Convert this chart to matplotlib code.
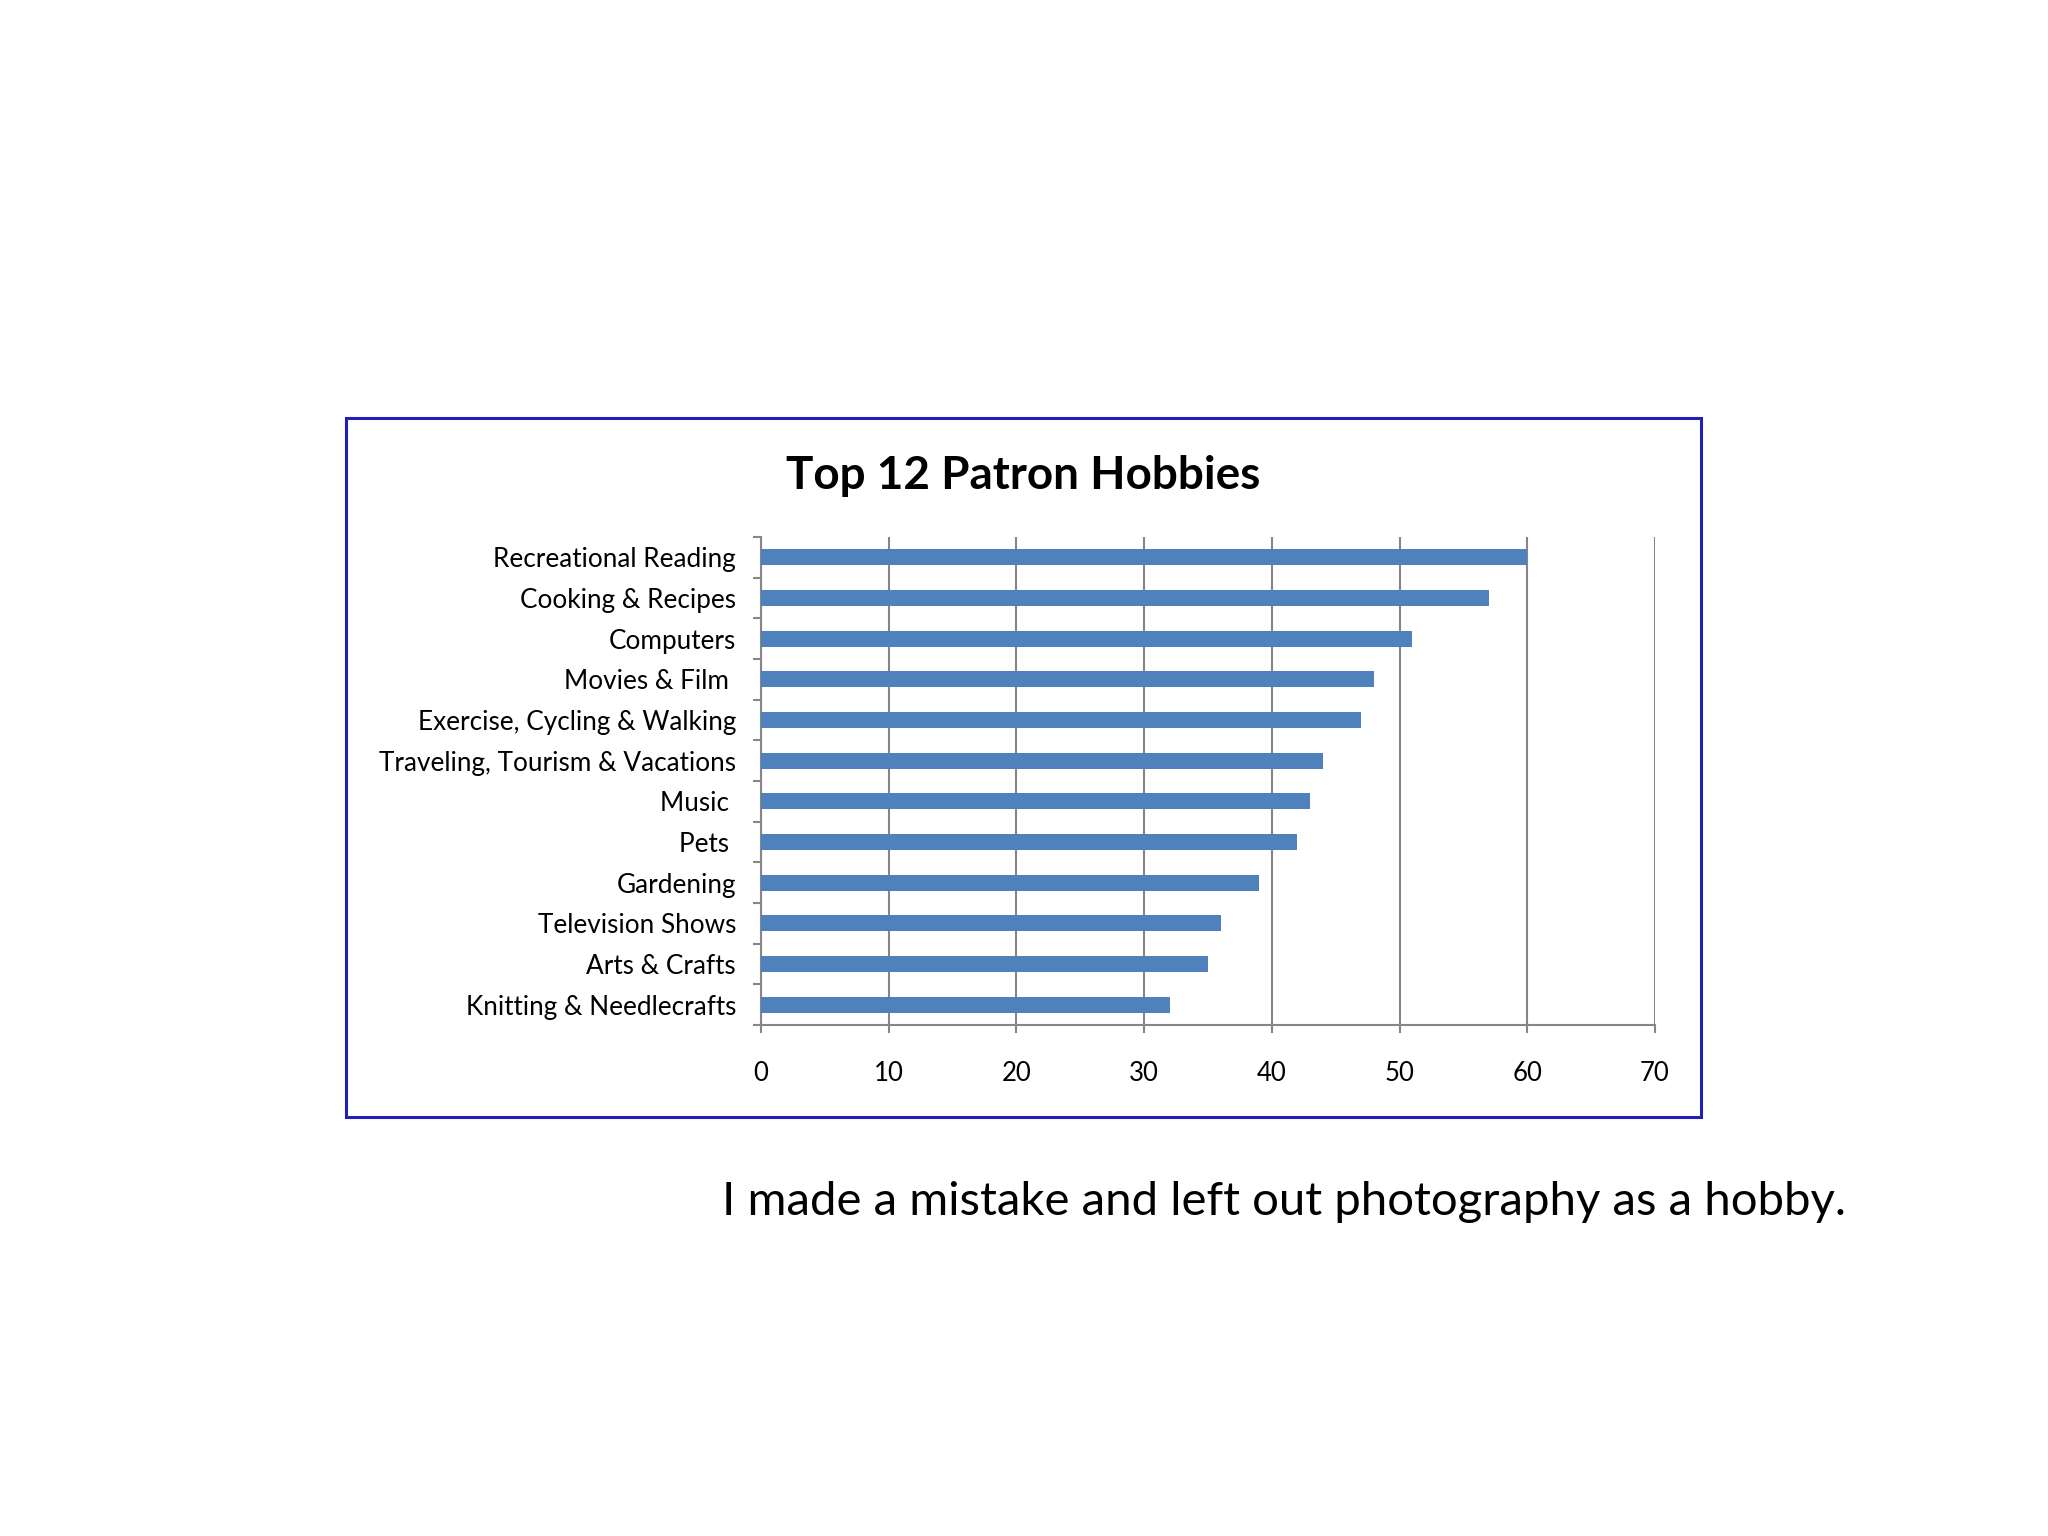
# Top 12 Patron Hobbies - horizontal bar chart
import numpy as np
import matplotlib.pyplot as plt
from matplotlib.patches import Rectangle

# data (top to bottom as shown)
hobbies = ['Recreational Reading', 'Cooking & Recipes', 'Computers', 'Movies & Film ',
           'Exercise, Cycling & Walking', 'Traveling, Tourism & Vacations', 'Music ',
           'Pets ', 'Gardening', 'Television Shows', 'Arts & Crafts',
           'Knitting & Needlecrafts']
counts = [60, 57, 51, 48, 47, 44, 43, 42, 39, 36, 35, 32]
xticks = [0, 10, 20, 30, 40, 50, 60, 70]

plt.rcParams['font.family'] = ['Lato', 'DejaVu Sans']

fig = plt.figure(figsize=(20.48, 15.36), dpi=100)
fig.patch.set_facecolor('white')

# blue frame around the chart
fig.add_artist(Rectangle((346/2048, 1-1117/1536), (1701-346)/2048, (1117-418)/1536,
                         transform=fig.transFigure, fill=False,
                         edgecolor='#2020B8', linewidth=2.2))

ax = fig.add_axes([0.3716, 0.3327, 0.4365, 0.3177])
y = np.arange(len(hobbies))[::-1]
ax.barh(y, counts, height=0.4, color='#4F81BD', zorder=3)

ax.set_xlim(0, 70)
ax.set_ylim(-0.5, len(hobbies)-0.5)
ax.set_xticks(xticks)
ax.set_xticklabels([str(v) for v in xticks], fontsize=18.5)
ax.set_yticks(y)
ax.set_yticklabels(hobbies, fontsize=18.8)
ax.set_yticks(np.arange(len(hobbies)+1)-0.5, minor=True)

ax.grid(axis='x', color='#868686', linewidth=1.5, zorder=0)
for s in ['top', 'right']:
    ax.spines[s].set_visible(False)
for s in ['left', 'bottom']:
    ax.spines[s].set_color('#868686')
    ax.spines[s].set_linewidth(1.5)
ax.tick_params(axis='y', which='major', length=0, pad=18)
ax.tick_params(axis='y', which='minor', length=6, width=1.5, color='#868686')
ax.tick_params(axis='x', length=6, width=1.5, color='#868686', pad=20)

fig.text(1023/2048, 1-476/1536, 'Top 12 Patron Hobbies', fontsize=33,
         fontweight='bold', ha='center', va='center')
fig.text(722/2048, 1-1202/1536, 'I made a mistake and left out photography as a hobby.',
         fontsize=34, ha='left', va='center')

plt.savefig('out.png', dpi=100, facecolor='white')
